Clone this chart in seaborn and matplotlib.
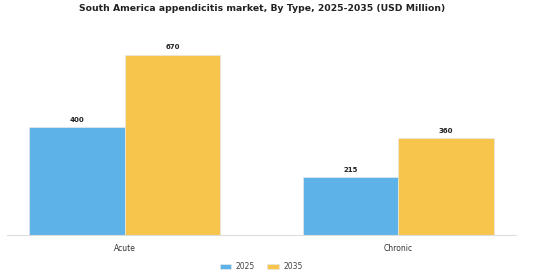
import pandas as pd
import seaborn as sns
import matplotlib.pyplot as plt

# --- data ---
types = ["Acute", "Chronic"]
years = ["2025", "2035"]
values_2025 = [400, 215]
values_2035 = [670, 360]

df = pd.DataFrame({
    "Type": types * 2,
    "Year": [years[0]] * 2 + [years[1]] * 2,
    "Value": values_2025 + values_2035,
})

sns.set_style("white")
plt.rcParams["font.family"] = ["DejaVu Sans"]

fig = plt.figure(figsize=(5.6, 2.8), dpi=100)
ax = fig.add_axes([7 / 560, 45 / 280, 509 / 560, 202 / 280])

palette = {"2025": "#5DB3E8", "2035": "#F7C44C"}
sns.barplot(data=df, x="Type", y="Value", hue="Year", palette=palette,
            width=0.7, saturation=1, edgecolor="#e8e8e8", linewidth=0.5, ax=ax)

for cont in ax.containers:
    ax.bar_label(cont, fmt="%d", padding=3, fontsize=5, fontweight="bold", color="#222222")

ax.set_xlim(-0.43, 1.43)
ax.set_ylim(0, 750)
ax.set_xlabel("")
ax.set_ylabel("")
ax.set_yticks([])
ax.tick_params(axis="x", labelsize=5.5, colors="#333333", length=3, width=0.6)
for side in ["top", "right", "left"]:
    ax.spines[side].set_visible(False)
ax.spines["bottom"].set_color("#dddddd")
ax.spines["bottom"].set_linewidth(0.8)

ax.legend(loc="upper center", bbox_to_anchor=(254 / 509, -0.1), ncol=2,
          frameon=False, fontsize=5.5, handlelength=1.5, handleheight=0.6,
          handletextpad=0.6, columnspacing=1.6, labelcolor="#444444")

fig.suptitle("South America appendicitis market, By Type, 2025-2035 (USD Million)",
             x=262 / 560, y=0.985, fontsize=6.7, fontweight="bold", color="#222222")

fig.savefig("out.png", dpi=100)
